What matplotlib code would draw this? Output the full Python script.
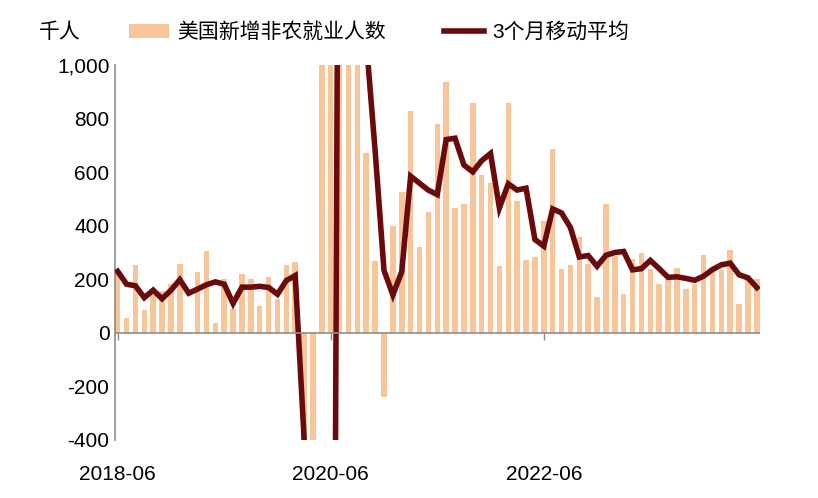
import numpy as np, pandas as pd, matplotlib
matplotlib.use("Agg")
import matplotlib.pyplot as plt
from matplotlib.ticker import FuncFormatter
plt.rcParams["font.family"]=["Liberation Sans","Noto Sans CJK SC","DejaVu Sans"]

# monthly change in nonfarm payrolls, thousands, 2018-04 .. 2024-06 (first two only feed the moving average)
pre=[200,270]
y2018=[220,56,252,87,140,156,182]                       # 2018-06..12
y2019=[258,5,228,307,37,202,91,220,202,100,208,125]
y2020=[254,264,-1700,-20500,2700,4600,1700,1500,1100,673,268,-240]
y2021=[398,528,830,320,450,780,937,465,480,860,590,561]
y2022=[250,860,491,271,285,417,688,240,253,358,256,133]
y2023=[481,287,145,275,300,238,182,203,244,164,182,290]
y2024=[238,235,309,108,200,200]
vals=np.array(pre+y2018+y2019+y2020+y2021+y2022+y2023+y2024,dtype=float)
months=pd.period_range("2018-04",periods=len(vals),freq="M")
ma=pd.Series(vals).rolling(3).mean().values
vals,ma,months=vals[2:],ma[2:],months[2:]
x=np.arange(len(vals))
ticklab=["2018-06","2020-06","2022-06"]
tickpos=[list(months.strftime("%Y-%m")).index(t) for t in ticklab]

fig=plt.figure(figsize=(8.18,4.98),dpi=100)
ax=fig.add_axes([0.1406,0.1165,0.789,0.7525])
b=ax.bar(x,vals,width=0.62,color="#F8C599",label="美国新增非农就业人数",zorder=2)
l,=ax.plot(x,ma,color="#6B0A0A",lw=4,label="3个月移动平均",zorder=3,solid_joinstyle="miter")
ax.set_ylim(-400,1000); ax.set_xlim(-0.3,len(vals)-0.6)
ax.set_yticks(range(-400,1001,200))
ax.yaxis.set_major_formatter(FuncFormatter(lambda v,p:f"{int(v):,}"))
ax.axhline(0,color="#8C8C8C",lw=1.2,zorder=4)
ax.plot(tickpos,[0]*len(tickpos),ls="none",marker=3,ms=5,color="#8C8C8C",zorder=4)
ax.set_xticks(tickpos); ax.set_xticklabels(ticklab)
ax.tick_params(axis="x",length=0,pad=18,labelsize=15)
ax.tick_params(axis="y",length=0,pad=4,labelsize=15)
for s in ["top","right","bottom"]: ax.spines[s].set_visible(False)
ax.spines["left"].set_color("#8C8C8C"); ax.spines["left"].set_linewidth(1.2)
fig.text(0.047,0.935,"千人",fontsize=15,va="center")
fig.legend([b,l],[b.get_label(),l.get_label()],loc="center left",bbox_to_anchor=(0.135,0.935),ncol=2,
           frameon=False,fontsize=15,handlelength=1.9,columnspacing=2.8,handletextpad=0.4)
fig.savefig("out.png",dpi=100)
